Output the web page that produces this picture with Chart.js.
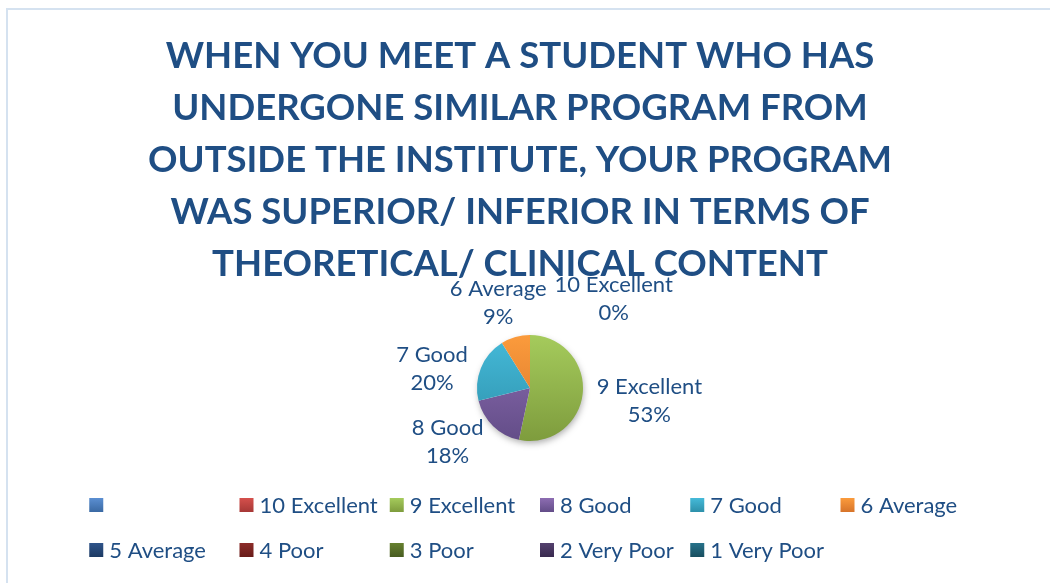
<!DOCTYPE html>
<html>
<head>
<meta charset="utf-8">
<script src="https://cdn.jsdelivr.net/npm/chart.js@4/dist/chart.umd.min.js"></script>
<style>
  html, body { margin: 0; padding: 0; background: #fff; }
  #wrap { position: relative; width: 1050px; height: 583px; }
</style>
</head>
<body>
<div id="wrap"><canvas id="myChart" width="1050" height="583"></canvas></div>
<script>
// survey answers (number of respondents per rating)
const categories = ['', '10 Excellent', '9 Excellent', '8 Good', '7 Good', '6 Average',
  '5 Average', '4 Poor', '3 Poor', '2 Very Poor', '1 Very Poor'];
const responses = [0, 0, 24, 8, 9, 4, 0, 0, 0, 0, 0];
// categories that get a data label next to the pie
const labelled = ['10 Excellent', '9 Excellent', '8 Good', '7 Good', '6 Average'];
const titleLines = [
  'WHEN YOU MEET A STUDENT WHO HAS',
  'UNDERGONE SIMILAR PROGRAM FROM',
  'OUTSIDE THE INSTITUTE, YOUR PROGRAM',
  'WAS SUPERIOR/ INFERIOR IN TERMS OF',
  'THEORETICAL/ CLINICAL CONTENT'
];

// top / bottom colour of the office style gradients
const sliceColors = [
  ['#5b8fd2', '#3a69a3'],
  ['#d5504c', '#a63836'],
  ['#a5cb5c', '#7e9c3d'],
  ['#8d6db2', '#634d88'],
  ['#45bad9', '#2d90aa'],
  ['#fb9b3c', '#d7742a'],
  ['#2f548a', '#1c3a63'],
  ['#8c2c29', '#681b19'],
  ['#66802f', '#485c21'],
  ['#54416e', '#392a4f'],
  ['#27728a', '#184e5f']
];
const textColor = '#1f4e84';
const fontFamily = 'Lato, "Noto Sans", sans-serif';

function vGrad(ctx, top, bottom, c) {
  const g = ctx.createLinearGradient(0, top, 0, bottom);
  g.addColorStop(0, c[0]);
  g.addColorStop(1, c[1]);
  return g;
}

// white frame with the thin blue border of the chart object
const framePlugin = {
  id: 'frame',
  beforeDraw(chart) {
    const ctx = chart.ctx;
    ctx.save();
    ctx.fillStyle = '#fff';
    ctx.fillRect(0, 0, chart.width, chart.height);
    ctx.strokeStyle = '#d5e2f0';
    ctx.lineWidth = 2;
    ctx.strokeRect(7, 9, chart.width + 20, chart.height + 20);
    ctx.restore();
  }
};

// soft shadow under the pie
const shadowPlugin = {
  id: 'pieShadow',
  beforeDatasetsDraw(chart) {
    const arc = chart.getDatasetMeta(0).data[0];
    if (!arc) return;
    const ctx = chart.ctx;
    ctx.save();
    ctx.shadowColor = 'rgba(0,0,0,0.35)';
    ctx.shadowBlur = 7;
    ctx.shadowOffsetX = 1;
    ctx.shadowOffsetY = 3;
    ctx.fillStyle = '#fff';
    ctx.beginPath();
    ctx.arc(arc.x, arc.y, arc.outerRadius - 1, 0, Math.PI * 2);
    ctx.fill();
    ctx.restore();
  }
};

// category + percent labels outside the slices
const labelPlugin = {
  id: 'sliceLabels',
  afterDatasetsDraw(chart) {
    const ctx = chart.ctx;
    const meta = chart.getDatasetMeta(0);
    const total = responses.reduce((a, b) => a + b, 0);
    const lh = 28;
    ctx.save();
    ctx.font = '22px ' + fontFamily;
    const boxes = [];
    meta.data.forEach((arc, i) => {
      if (!labelled.includes(categories[i])) return;
      const p = arc.getProps(['x', 'y', 'startAngle', 'endAngle', 'outerRadius'], true);
      const mid = (p.startAngle + p.endAngle) / 2;
      const dx = Math.cos(mid), dy = Math.sin(mid);
      const lines = [categories[i], Math.round(responses[i] / total * 100) + '%'];
      const w = Math.max(...lines.map(t => ctx.measureText(t).width));
      const h = lh * lines.length;
      const r = p.outerRadius + 14;
      const ax = p.x + dx * r, ay = p.y + dy * r;
      let cx, cy;
      if (Math.abs(dx) > 0.5) {
        // side labels sit beside the anchor point
        cx = ax + Math.sign(dx) * w / 2;
        cy = ay + 6;
      } else {
        cx = ax + dx * w / 2;
        cy = ay + dy * h / 2 + 6;
      }
      boxes.push({ v: responses[i], lines, w, h, cx, cy });
    });
    // labels of empty slices slide sideways until they are clear of the others
    boxes.filter(b => b.v === 0).forEach(b => {
      boxes.forEach(o => {
        if (o === b || o.v === 0) return;
        const ox = (b.w + o.w) / 2 - Math.abs(b.cx - o.cx);
        const oy = (b.h + o.h) / 2 - Math.abs(b.cy - o.cy);
        if (ox > 0 && oy > 0) b.cx = o.cx + (b.w + o.w) / 2 + 8;
      });
    });
    ctx.fillStyle = textColor;
    ctx.textAlign = 'center';
    ctx.textBaseline = 'middle';
    boxes.forEach(b => {
      b.lines.forEach((t, k) => {
        ctx.fillText(t, b.cx, b.cy - b.h / 2 + lh * (k + 0.5));
      });
    });
    ctx.restore();
  }
};

// title and two row legend with fixed columns
const textPlugin = {
  id: 'titleLegend',
  afterDraw(chart) {
    const ctx = chart.ctx;
    ctx.save();
    ctx.fillStyle = textColor;
    ctx.textAlign = 'center';
    ctx.textBaseline = 'alphabetic';
    ctx.font = 'bold 36.5px ' + fontFamily;
    titleLines.forEach((t, k) => ctx.fillText(t, 520, 68 + k * 52));

    ctx.font = '22px ' + fontFamily;
    const box = 14, gap = 6, perRow = 6;
    const maxW = Math.max(...categories.map(c => ctx.measureText(c).width));
    const colW = maxW + box + gap + 12;
    const x0 = 540 - colW * perRow / 2;
    ctx.textAlign = 'left';
    ctx.textBaseline = 'middle';
    categories.forEach((c, i) => {
      const x = x0 + (i % perRow) * colW;
      const y = 505 + Math.floor(i / perRow) * 45;
      ctx.fillStyle = vGrad(ctx, y - box / 2, y + box / 2, sliceColors[i]);
      ctx.fillRect(x, y - box / 2, box, box);
      ctx.fillStyle = textColor;
      ctx.fillText(c, x + box + gap, y + 1);
    });
    ctx.restore();
  }
};

const ctx1 = document.getElementById('myChart').getContext('2d');
const myChart = new Chart(ctx1, {
  type: 'pie',
  data: {
    labels: categories,
    datasets: [{
      data: responses,
      backgroundColor: (c) => {
        const area = c.chart.chartArea;
        if (!area) return sliceColors[c.dataIndex][0];
        return vGrad(c.chart.ctx, area.top, area.bottom, sliceColors[c.dataIndex]);
      },
      borderWidth: 0
    }]
  },
  options: {
    responsive: false,
    animation: false,
    layout: {
      padding: { left: 477, right: 467, top: 335, bottom: 142 }
    },
    plugins: {
      legend: { display: false },
      title: { display: false },
      tooltip: { enabled: false }
    }
  },
  plugins: [framePlugin, shadowPlugin, labelPlugin, textPlugin]
});
</script>
</body>
</html>
